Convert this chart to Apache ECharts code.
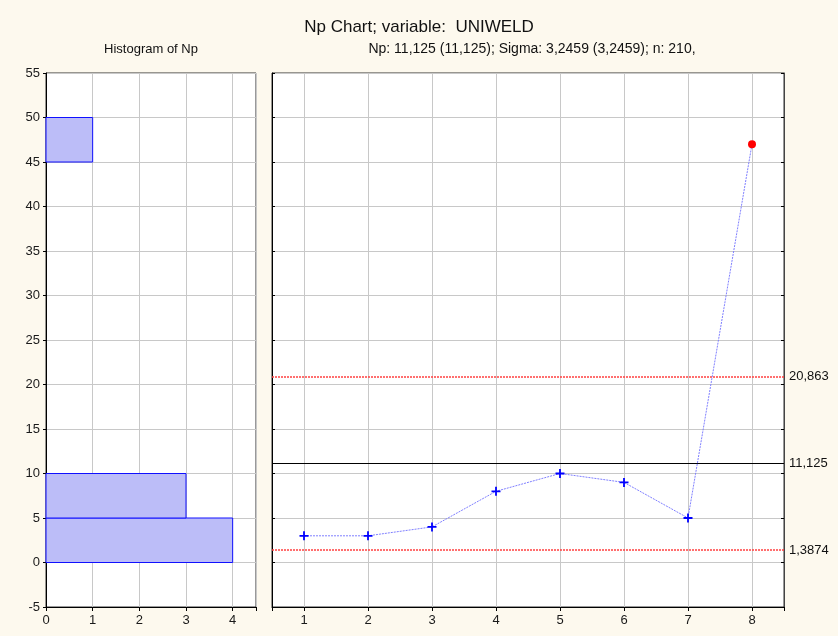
<!DOCTYPE html>
<html><head><meta charset="utf-8">
<script src="https://cdn.jsdelivr.net/npm/echarts@6/dist/echarts.min.js"></script>
<style>html,body{margin:0;padding:0;background:#fdf9ee}#c{width:838px;height:636px}</style>
</head><body><div id="c"></div>
<script>
// ---- data ----
const samples = [1, 2, 3, 4, 5, 6, 7, 8];
const npValues = [3, 3, 4, 8, 10, 9, 5, 47];
const outOfControl = [false, false, false, false, false, false, false, true];
const centerLine = 11.125, centerLabel = '11,125';
const uclValue = 20.863, uclLabel = '20,863';
const lclValue = 1.3874, lclLabel = '1,3874';
const histBinLow = [0, 5, 45];
const histBinHigh = [5, 10, 50];
const histCounts = [4, 3, 1];
const yMin = -5, yMax = 55, yStep = 5;
const histXMax = 4.5;
const sampleMin = 0.5, sampleMax = 8.5;
const mainTitle = 'Np Chart; variable:  UNIWELD';
const histTitle = 'Histogram of Np';
const chartSubtitle = 'Np: 11,125 (11,125); Sigma: 3,2459 (3,2459); n: 210,';

// ---- chart ----
const FONT = 'Arial, "Liberation Sans", sans-serif';
const lab = {color: '#1a1a1a', fontSize: 13, fontFamily: FONT};
const gridLine = {show: true, lineStyle: {color: '#c8c8c8', width: 1}};
const blackLine = {show: true, onZero: false, lineStyle: {color: '#000', width: 1}};
const intOnly = v => (Math.abs(v - Math.round(v)) < 1e-9 ? String(Math.round(v)) : '');

const chart = echarts.init(document.getElementById('c'), null, {renderer: 'canvas'});
chart.setOption({
  backgroundColor: '#fdf9ee',
  animation: false,
  title: [
    {text: mainTitle, left: 419, top: 19, textAlign: 'center', padding: 0,
     textStyle: {fontSize: 17, fontWeight: 'normal', fontFamily: FONT, color: '#111'}},
    {text: histTitle, left: 151, top: 43, textAlign: 'center', padding: 0,
     textStyle: {fontSize: 13, fontWeight: 'normal', fontFamily: FONT, color: '#111'}},
    {text: chartSubtitle, left: 532, top: 42, textAlign: 'center', padding: 0,
     textStyle: {fontSize: 14, fontWeight: 'normal', fontFamily: FONT, color: '#111'}}
  ],
  grid: [
    {left: 46, top: 73, width: 210, height: 534, show: true, backgroundColor: '#fff', borderColor: '#333', borderWidth: 1},
    {left: 272, top: 73, width: 512, height: 534, show: true, backgroundColor: '#fff', borderColor: '#333', borderWidth: 1}
  ],
  xAxis: [
    {gridIndex: 0, type: 'value', min: 0, max: histXMax, interval: 1,
     axisLine: blackLine, axisTick: {show: true, inside: false, length: 4, lineStyle: {color: '#000'}},
     axisLabel: Object.assign({formatter: intOnly, margin: 7}, lab), splitLine: gridLine},
    {gridIndex: 1, type: 'value', min: sampleMin, max: sampleMax, minInterval: 1, maxInterval: 1, splitNumber: 8,
     axisLine: blackLine, axisTick: {show: true, inside: false, length: 4, lineStyle: {color: '#000'}},
     axisLabel: Object.assign({formatter: intOnly, margin: 7}, lab), splitLine: gridLine}
  ],
  yAxis: [
    {gridIndex: 0, type: 'value', min: yMin, max: yMax, interval: yStep,
     axisLine: blackLine, axisTick: {show: true, inside: false, length: 3, lineStyle: {color: '#000'}},
     axisLabel: Object.assign({margin: 6}, lab), splitLine: gridLine},
    {gridIndex: 1, type: 'value', min: yMin, max: yMax, interval: yStep,
     axisLine: blackLine, axisTick: {show: true, inside: true, length: 3, lineStyle: {color: '#000'}},
     axisLabel: {show: false}, splitLine: gridLine},
    {gridIndex: 1, type: 'value', position: 'right', min: yMin, max: yMax, interval: yStep,
     axisLine: {show: true, onZero: false, lineStyle: {color: '#444'}}, axisTick: {show: true, inside: true, length: 3, lineStyle: {color: '#000'}},
     axisLabel: {show: false}, splitLine: {show: false}}
  ],
  series: [
    {
      type: 'custom', xAxisIndex: 0, yAxisIndex: 0,
      data: histCounts.map((c, i) => [histBinLow[i], histBinHigh[i], c]),
      renderItem: function (params, api) {
        const lo = api.value(0), hi = api.value(1), cnt = api.value(2);
        const pTop = api.coord([0, hi]);
        const pBot = api.coord([cnt, lo]);
        return {
          type: 'rect',
          shape: {x: pTop[0], y: pTop[1], width: pBot[0] - pTop[0], height: pBot[1] - pTop[1]},
          style: {fill: '#bcbdf8', stroke: '#1010ff', lineWidth: 1}
        };
      }
    },
    {
      type: 'line', xAxisIndex: 1, yAxisIndex: 1,
      data: samples.map((s, i) => outOfControl[i]
        ? {value: [s, npValues[i]], symbol: 'circle', symbolSize: 8, itemStyle: {color: '#ff0000'}}
        : {value: [s, npValues[i]]}),
      symbol: 'path://M4,0H6V4H10V6H6V10H4V6H0V4H4Z',
      symbolSize: 9,
      itemStyle: {color: '#0000ff'},
      lineStyle: {color: '#7f7fff', width: 1, type: [2, 1]},
      z: 5,
      markLine: {
        silent: true, symbol: 'none', precision: 4,
        label: {position: 'end', distance: 5, color: '#111', fontSize: 13, fontFamily: FONT},
        data: [
          {yAxis: uclValue, label: {formatter: uclLabel}, lineStyle: {color: '#ff4040', type: [2, 1], width: 1.5}},
          {yAxis: centerLine, label: {formatter: centerLabel}, lineStyle: {color: '#000', type: 'solid', width: 1}},
          {yAxis: lclValue, label: {formatter: lclLabel}, lineStyle: {color: '#ff4040', type: [2, 1], width: 1.5}}
        ]
      }
    }
  ]
});
</script>
</body></html>
